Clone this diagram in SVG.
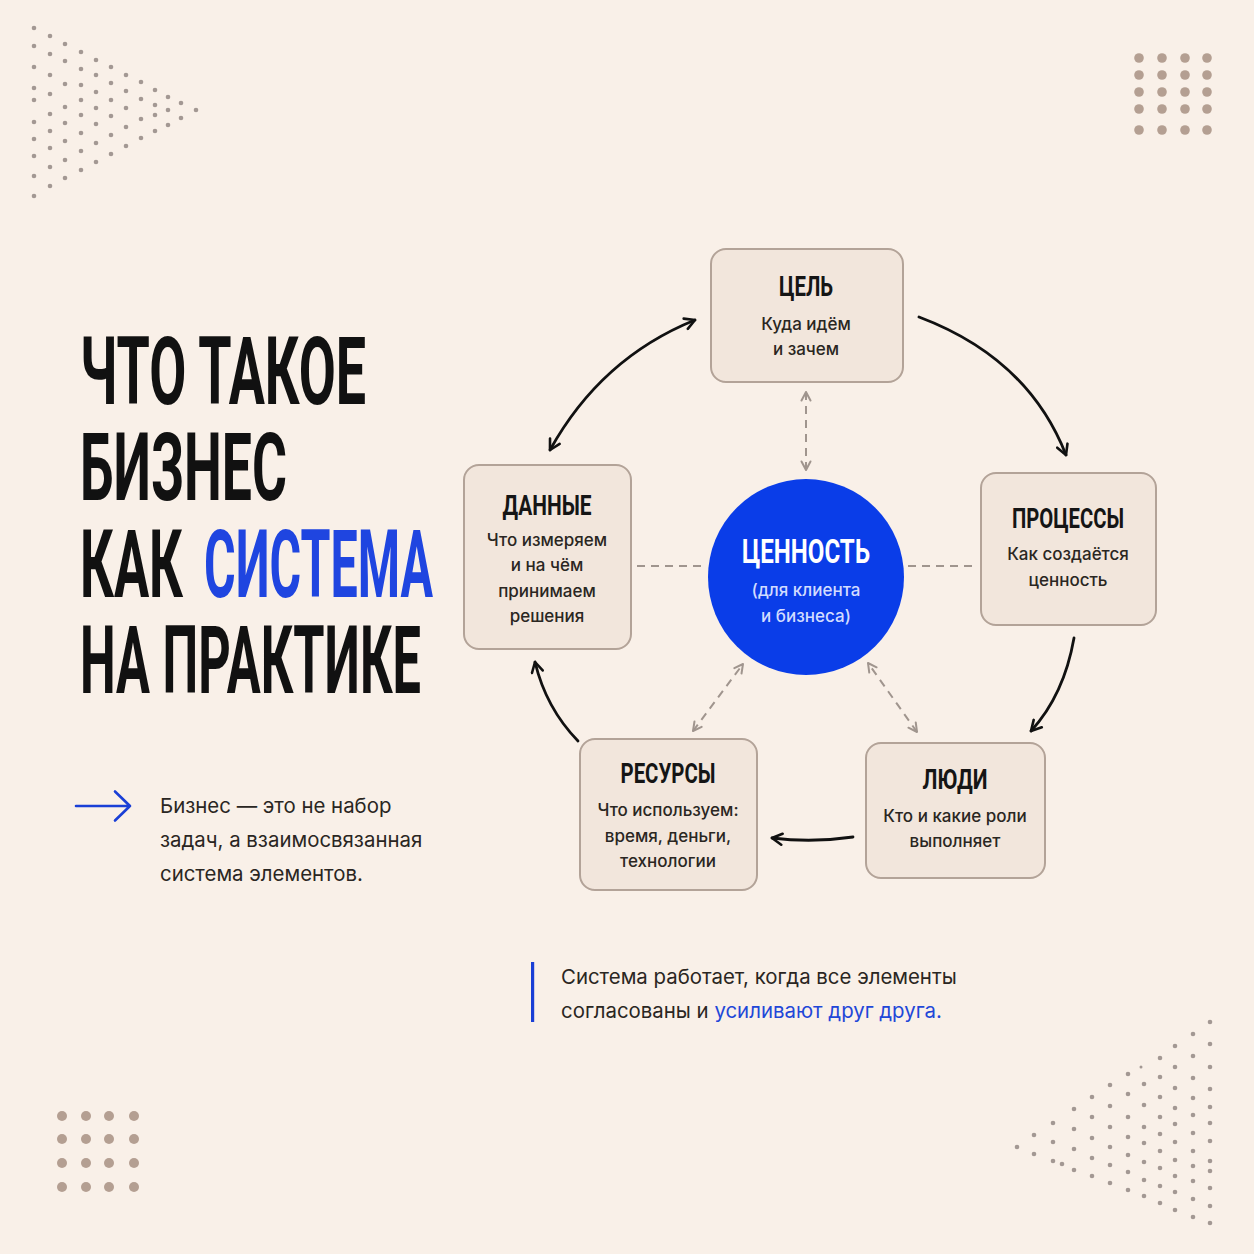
<svg xmlns="http://www.w3.org/2000/svg" width="1254" height="1254" viewBox="0 0 1254 1254">
<defs>
<style>
.bg{fill:#f9f0e8}
.tri{fill:#a39893}
.sq{fill:#b49f92}
.box{fill:#f2e6dc;stroke:#b3a398;stroke-width:2}
.ttl{font-family:Roboto,"Liberation Sans",sans-serif;font-weight:700;fill:#111}
.ntl{font-family:Roboto,"Liberation Sans",sans-serif;font-weight:700;font-size:27px;fill:#151515;text-anchor:middle}
.sub{font-family:Inter,"Noto Sans",sans-serif;font-weight:500;font-size:17px;fill:#2a2622;text-anchor:middle}
.body{font-family:Inter,"Noto Sans",sans-serif;font-weight:400;font-size:20.4px;fill:#2a2622}
.arc{fill:none;stroke:#111;stroke-width:2.8;stroke-linecap:round}
.dash{fill:none;stroke:#a0958e;stroke-width:2;stroke-dasharray:8 6}
</style>
<marker id="ah" viewBox="0 0 14 14" refX="12" refY="7" markerWidth="14" markerHeight="14" markerUnits="userSpaceOnUse" orient="auto-start-reverse">
<path d="M2,1.5 L12,7 L2,12.5" fill="none" stroke="#111" stroke-width="2.6" stroke-linecap="round" stroke-linejoin="round"/>
</marker>
<marker id="gh" viewBox="0 0 12 12" refX="10.5" refY="6" markerWidth="12" markerHeight="12" markerUnits="userSpaceOnUse" orient="auto-start-reverse">
<path d="M2,1.5 L10.5,6 L2,10.5" fill="none" stroke="#a0958e" stroke-width="2" stroke-linecap="round" stroke-linejoin="round"/>
</marker>
</defs>
<rect class="bg" x="0" y="0" width="1254" height="1254"/>

<g id="dots-top-left" class="tri">
<circle cx="34" cy="28" r="2.3"/><circle cx="34" cy="46" r="2.3"/><circle cx="34" cy="67" r="2.3"/><circle cx="34" cy="88" r="2.3"/><circle cx="34" cy="100" r="2.3"/><circle cx="34" cy="122" r="2.3"/><circle cx="34" cy="139" r="2.3"/><circle cx="34" cy="156" r="2.3"/><circle cx="34" cy="176" r="2.3"/><circle cx="34" cy="196" r="2.3"/>
<circle cx="50" cy="36" r="2.3"/><circle cx="50" cy="54" r="2.3"/><circle cx="50" cy="75" r="2.3"/><circle cx="50" cy="94" r="2.3"/><circle cx="50" cy="114" r="2.3"/><circle cx="50" cy="131" r="2.3"/><circle cx="50" cy="148" r="2.3"/><circle cx="50" cy="167" r="2.3"/><circle cx="50" cy="186" r="2.3"/>
<circle cx="65" cy="44" r="2.3"/><circle cx="65" cy="61" r="2.3"/><circle cx="65" cy="84" r="2.3"/><circle cx="65" cy="107" r="2.3"/><circle cx="65" cy="123" r="2.3"/><circle cx="65" cy="141" r="2.3"/><circle cx="65" cy="160" r="2.3"/><circle cx="65" cy="178" r="2.3"/>
<circle cx="81" cy="52" r="2.3"/><circle cx="81" cy="69" r="2.3"/><circle cx="81" cy="85" r="2.3"/><circle cx="81" cy="100" r="2.3"/><circle cx="81" cy="115" r="2.3"/><circle cx="81" cy="133" r="2.3"/><circle cx="81" cy="151" r="2.3"/><circle cx="81" cy="170" r="2.3"/>
<circle cx="96" cy="60" r="2.3"/><circle cx="96" cy="75" r="2.3"/><circle cx="96" cy="92" r="2.3"/><circle cx="96" cy="108" r="2.3"/><circle cx="96" cy="124" r="2.3"/><circle cx="96" cy="143" r="2.3"/><circle cx="96" cy="162" r="2.3"/>
<circle cx="111" cy="67" r="2.3"/><circle cx="111" cy="83" r="2.3"/><circle cx="111" cy="100" r="2.3"/><circle cx="111" cy="116" r="2.3"/><circle cx="111" cy="135" r="2.3"/><circle cx="111" cy="154" r="2.3"/>
<circle cx="126" cy="75" r="2.3"/><circle cx="126" cy="91" r="2.3"/><circle cx="126" cy="108" r="2.3"/><circle cx="126" cy="127" r="2.3"/><circle cx="126" cy="146" r="2.3"/>
<circle cx="141" cy="82" r="2.3"/><circle cx="141" cy="99" r="2.3"/><circle cx="141" cy="119" r="2.3"/><circle cx="141" cy="138" r="2.3"/>
<circle cx="155" cy="90" r="2.3"/><circle cx="155" cy="105" r="2.3"/><circle cx="155" cy="115" r="2.3"/><circle cx="155" cy="131" r="2.3"/>
<circle cx="168" cy="97" r="2.3"/><circle cx="168" cy="110" r="2.3"/><circle cx="168" cy="125" r="2.3"/>
<circle cx="181" cy="103" r="2.3"/><circle cx="181" cy="118" r="2.3"/>
<circle cx="196" cy="110" r="2.3"/>
</g>

<g id="dots-top-right" class="sq">
<circle cx="1139" cy="58" r="4.8"/><circle cx="1162" cy="58" r="4.8"/><circle cx="1185" cy="58" r="4.8"/><circle cx="1207" cy="58" r="4.8"/>
<circle cx="1139" cy="75" r="4.8"/><circle cx="1162" cy="75" r="4.8"/><circle cx="1185" cy="75" r="4.8"/><circle cx="1207" cy="75" r="4.8"/>
<circle cx="1139" cy="92" r="4.8"/><circle cx="1162" cy="92" r="4.8"/><circle cx="1185" cy="92" r="4.8"/><circle cx="1207" cy="92" r="4.8"/>
<circle cx="1139" cy="109" r="4.8"/><circle cx="1162" cy="109" r="4.8"/><circle cx="1185" cy="109" r="4.8"/><circle cx="1207" cy="109" r="4.8"/>
<circle cx="1139" cy="130" r="4.8"/><circle cx="1162" cy="130" r="4.8"/><circle cx="1185" cy="130" r="4.8"/><circle cx="1207" cy="130" r="4.8"/>
</g>

<g id="dots-bottom-left" class="sq">
<circle cx="62" cy="1116" r="5"/><circle cx="86" cy="1116" r="5"/><circle cx="109" cy="1116" r="5"/><circle cx="134" cy="1116" r="5"/>
<circle cx="62" cy="1139" r="5"/><circle cx="86" cy="1139" r="5"/><circle cx="109" cy="1139" r="5"/><circle cx="134" cy="1139" r="5"/>
<circle cx="62" cy="1163" r="5"/><circle cx="86" cy="1163" r="5"/><circle cx="109" cy="1163" r="5"/><circle cx="134" cy="1163" r="5"/>
<circle cx="62" cy="1187" r="5"/><circle cx="86" cy="1187" r="5"/><circle cx="109" cy="1187" r="5"/><circle cx="134" cy="1187" r="5"/>
</g>

<g id="dots-bottom-right" class="tri">
<circle cx="1210" cy="1022" r="2.3"/><circle cx="1210" cy="1044" r="2.3"/><circle cx="1210" cy="1067" r="2.3"/><circle cx="1210" cy="1089" r="2.3"/><circle cx="1210" cy="1107" r="2.3"/><circle cx="1210" cy="1123" r="2.3"/><circle cx="1210" cy="1141" r="2.3"/><circle cx="1210" cy="1161" r="2.3"/><circle cx="1210" cy="1171" r="2.3"/><circle cx="1210" cy="1188" r="2.3"/><circle cx="1210" cy="1206" r="2.3"/><circle cx="1210" cy="1223" r="2.3"/>
<circle cx="1193" cy="1034" r="2.3"/><circle cx="1193" cy="1056" r="2.3"/><circle cx="1193" cy="1078" r="2.3"/><circle cx="1193" cy="1098" r="2.3"/><circle cx="1193" cy="1115" r="2.3"/><circle cx="1193" cy="1133" r="2.3"/><circle cx="1193" cy="1151" r="2.3"/><circle cx="1193" cy="1166" r="2.3"/><circle cx="1193" cy="1181" r="2.3"/><circle cx="1193" cy="1199" r="2.3"/><circle cx="1193" cy="1217" r="2.3"/>
<circle cx="1175" cy="1046" r="2.3"/><circle cx="1175" cy="1067" r="2.3"/><circle cx="1175" cy="1088" r="2.3"/><circle cx="1175" cy="1108" r="2.3"/><circle cx="1175" cy="1124" r="2.3"/><circle cx="1175" cy="1142" r="2.3"/><circle cx="1175" cy="1160" r="2.3"/><circle cx="1175" cy="1176" r="2.3"/><circle cx="1175" cy="1192" r="2.3"/><circle cx="1175" cy="1210" r="2.3"/>
<circle cx="1160" cy="1058" r="2.3"/><circle cx="1160" cy="1077" r="2.3"/><circle cx="1160" cy="1097" r="2.3"/><circle cx="1160" cy="1117" r="2.3"/><circle cx="1160" cy="1134" r="2.3"/><circle cx="1160" cy="1151" r="2.3"/><circle cx="1160" cy="1168" r="2.3"/><circle cx="1160" cy="1186" r="2.3"/><circle cx="1160" cy="1203" r="2.3"/>
<circle cx="1141" cy="1067" r="1.5"/><circle cx="1144" cy="1084" r="2.3"/><circle cx="1144" cy="1105" r="2.3"/><circle cx="1144" cy="1127" r="2.3"/><circle cx="1144" cy="1143" r="2.3"/><circle cx="1144" cy="1162" r="2.3"/><circle cx="1144" cy="1180" r="2.3"/><circle cx="1144" cy="1196" r="2.3"/>
<circle cx="1128" cy="1074" r="2.3"/><circle cx="1128" cy="1094" r="2.3"/><circle cx="1128" cy="1117" r="2.3"/><circle cx="1128" cy="1137" r="2.3"/><circle cx="1128" cy="1155" r="2.3"/><circle cx="1128" cy="1172" r="2.3"/><circle cx="1128" cy="1190" r="2.3"/>
<circle cx="1110" cy="1085" r="2.3"/><circle cx="1110" cy="1106" r="2.3"/><circle cx="1110" cy="1127" r="2.3"/><circle cx="1110" cy="1147" r="2.3"/><circle cx="1110" cy="1165" r="2.3"/><circle cx="1110" cy="1183" r="2.3"/>
<circle cx="1092" cy="1097" r="2.3"/><circle cx="1092" cy="1117" r="2.3"/><circle cx="1092" cy="1138" r="2.3"/><circle cx="1092" cy="1158" r="2.3"/><circle cx="1092" cy="1176" r="2.3"/>
<circle cx="1074" cy="1109" r="2.3"/><circle cx="1074" cy="1129" r="2.3"/><circle cx="1074" cy="1149" r="2.3"/><circle cx="1074" cy="1170" r="2.3"/>
<circle cx="1053" cy="1123" r="2.3"/><circle cx="1053" cy="1142" r="2.3"/><circle cx="1053" cy="1161" r="2.3"/><circle cx="1062" cy="1164" r="2.3"/>
<circle cx="1034" cy="1135" r="2.3"/><circle cx="1034" cy="1154" r="2.3"/>
<circle cx="1017" cy="1147" r="2.3"/>
</g>

<g id="title">
<text class="ttl" x="80" y="404" font-size="94" textLength="286" lengthAdjust="spacingAndGlyphs">ЧТО ТАКОЕ</text>
<text class="ttl" x="80" y="500" font-size="94" textLength="207" lengthAdjust="spacingAndGlyphs">БИЗНЕС</text>
<text class="ttl" x="80" y="597" font-size="94" textLength="103" lengthAdjust="spacingAndGlyphs">КАК</text>
<text class="ttl" x="204" y="597" font-size="94" textLength="229" lengthAdjust="spacingAndGlyphs" style="fill:#1f45e0">СИСТЕМА</text>
<text class="ttl" x="80" y="693" font-size="94" textLength="341" lengthAdjust="spacingAndGlyphs">НА ПРАКТИКЕ</text>
</g>

<g id="note-left">
<path d="M76,806 H130 M115,791.5 L130,806 L115,820.5" fill="none" stroke="#1a3fd6" stroke-width="2.6" stroke-linecap="round" stroke-linejoin="round"/>
<text class="body" x="160" y="813">Бизнес — это не набор</text>
<text class="body" x="160" y="847">задач, а взаимосвязанная</text>
<text class="body" x="160" y="881">система элементов.</text>
</g>

<g id="note-bottom">
<rect x="531" y="962" width="3.2" height="60" fill="#1a3fd6"/>
<text class="body" x="561" y="984">Система работает, когда все элементы</text>
<text class="body" x="561" y="1018">согласованы и <tspan fill="#1f47d8">усиливают друг друга.</tspan></text>
</g>

<g id="connectors">
<path class="arc" d="M550,450 Q601,358 695,320" marker-start="url(#ah)" marker-end="url(#ah)"/>
<path class="arc" d="M919,317 Q1028,358 1066,455" marker-end="url(#ah)"/>
<path class="arc" d="M1074,638 Q1064,695 1031,731" marker-end="url(#ah)"/>
<path class="arc" d="M853,837 Q812,843 772,838" marker-end="url(#ah)"/>
<path class="arc" d="M578,741 Q546,708 535,662" marker-end="url(#ah)"/>
<path class="dash" d="M806,392 V470" marker-start="url(#gh)" marker-end="url(#gh)"/>
<path class="dash" d="M637,566 H704"/>
<path class="dash" d="M908,566 H977"/>
<path class="dash" d="M693,731 L743,664" marker-start="url(#gh)" marker-end="url(#gh)"/>
<path class="dash" d="M917,732 L868,663" marker-start="url(#gh)" marker-end="url(#gh)"/>
</g>

<g id="node-tsel">
<rect class="box" x="711" y="249" width="192" height="133" rx="15"/>
<text class="ntl" x="806" y="296" textLength="54" lengthAdjust="spacingAndGlyphs">ЦЕЛЬ</text>
<text class="sub" x="806" y="330">Куда идём</text>
<text class="sub" x="806" y="355">и зачем</text>
</g>

<g id="node-dannye">
<rect class="box" x="464" y="465" width="167" height="184" rx="15"/>
<text class="ntl" x="547" y="515" textLength="89" lengthAdjust="spacingAndGlyphs">ДАННЫЕ</text>
<text class="sub" x="547" y="546">Что измеряем</text>
<text class="sub" x="547" y="571">и на чём</text>
<text class="sub" x="547" y="597">принимаем</text>
<text class="sub" x="547" y="622">решения</text>
</g>

<g id="node-tsennost">
<circle cx="806" cy="577" r="98" fill="#0a3de8"/>
<text class="ntl" x="806" y="563" style="font-size:33px;fill:#ffffff" textLength="128" lengthAdjust="spacingAndGlyphs">ЦЕННОСТЬ</text>
<text class="sub" x="806" y="596" style="fill:#d2dcff">(для клиента</text>
<text class="sub" x="806" y="622" style="fill:#d2dcff">и бизнеса)</text>
</g>

<g id="node-protsessy">
<rect class="box" x="981" y="473" width="175" height="152" rx="15"/>
<text class="ntl" x="1068" y="528" textLength="112" lengthAdjust="spacingAndGlyphs">ПРОЦЕССЫ</text>
<text class="sub" x="1068" y="560">Как создаётся</text>
<text class="sub" x="1068" y="586">ценность</text>
</g>

<g id="node-resursy">
<rect class="box" x="580" y="739" width="177" height="151" rx="15"/>
<text class="ntl" x="668" y="783" textLength="95" lengthAdjust="spacingAndGlyphs">РЕСУРСЫ</text>
<text class="sub" x="668" y="816">Что используем:</text>
<text class="sub" x="668" y="842">время, деньги,</text>
<text class="sub" x="668" y="867">технологии</text>
</g>

<g id="node-lyudi">
<rect class="box" x="866" y="743" width="179" height="135" rx="15"/>
<text class="ntl" x="955" y="789" textLength="65" lengthAdjust="spacingAndGlyphs">ЛЮДИ</text>
<text class="sub" x="955" y="822">Кто и какие роли</text>
<text class="sub" x="955" y="847">выполняет</text>
</g>
</svg>
